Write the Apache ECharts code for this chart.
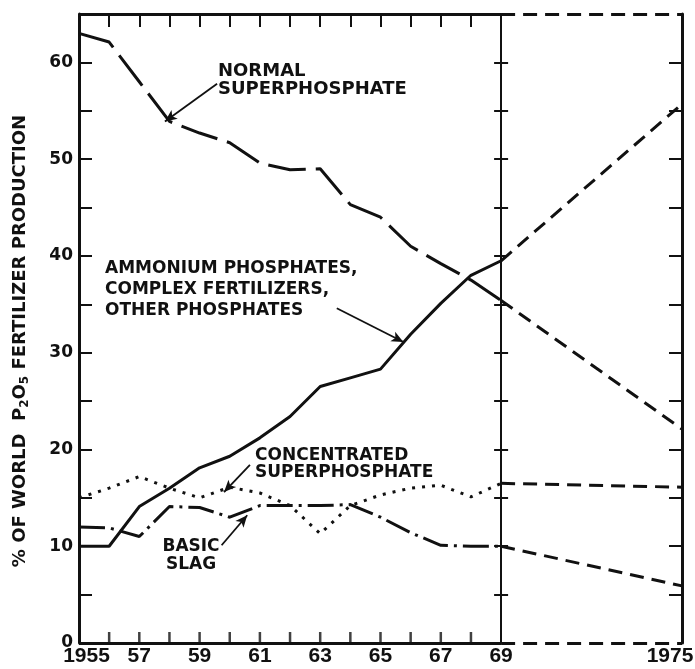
<!DOCTYPE html>
<html>
<head>
<meta charset="utf-8">
<script src="https://cdn.jsdelivr.net/npm/echarts@6/dist/echarts.min.js"></script>
<style>
  html, body { margin: 0; padding: 0; background: #fff; }
  #chart { width: 695px; height: 669px; }
</style>
</head>
<body>
<div id="chart"></div>
<script>
// years drawn as solid/dotted history, then projection to 1975
const years = [1955, 1956, 1957, 1958, 1959, 1960, 1961, 1962, 1963, 1964, 1965, 1966, 1967, 1968, 1969]
const normalSuper = [63.0, 62.1, 58.0, 53.9, 52.7, 51.7, 49.6, 48.9, 49.0, 45.3, 44.0, 41.0, 39.2, 37.5, 35.4]
const ammonium = [10.0, 10.0, 14.1, 16.0, 18.1, 19.3, 21.2, 23.4, 26.5, 27.4, 28.3, 31.9, 35.1, 38.0, 39.5]
const concentrated = [15.0, 16.0, 17.2, 16.0, 15.0, 16.1, 15.5, 14.2, 11.3, 14.2, 15.3, 16.0, 16.3, 15.1, 16.5]
const basicSlag = [12.0, 11.9, 11.0, 14.1, 14.0, 13.0, 14.2, 14.2, 14.2, 14.3, 13.0, 11.4, 10.1, 10.0, 10.0]

const projYears = [1969, 1975]
const normalProj = [35.4, 22.1]
const ammoniumProj = [39.5, 55.7]
const concentratedProj = [16.5, 16.1]
const basicSlagProj = [10.0, 5.9]

const xLabels = [1955, 1957, 1959, 1961, 1963, 1965, 1967, 1969, 1975]
const xTicks = [1956, 1957, 1958, 1959, 1960, 1961, 1962, 1963, 1964, 1965, 1966, 1967, 1968]
const yLabels = [0, 10, 20, 30, 40, 50, 60]
const yTicks = [5, 10, 15, 20, 25, 30, 35, 40, 45, 50, 55, 60]

const yMin = 0, yMax = 65
const xMin = 1955, xMax = 1975, xSplit = 1969

const gridLeft = 79, gridRight = 13, gridTop = 14, gridBottom = 26
const W = 695
const plotW = W - gridLeft - gridRight
const midOffset = -plotW * (xSplit - xMin) / (xMax - xMin)

const INK = '#111'
const BOLD = 'bold 17px "DejaVu Sans"'

function pairs (xs, ys) {
	return xs.map((x, i) => [x, ys[i]])
}

const chart = echarts.init(document.getElementById('chart'), null, { renderer: 'canvas' })

const projStyle = { color: INK, width: 3, type: [14, 8] }
const tickStyle = { color: INK, width: 2 }
const labelFont = { fontFamily: 'Liberation Sans', fontWeight: 'bold', fontSize: 21, color: INK }

chart.setOption({
	animation: false,
	backgroundColor: '#fff',
	textStyle: { fontFamily: 'DejaVu Sans', color: INK },
	grid: {
		left: gridLeft, right: gridRight, top: gridTop, bottom: gridBottom,
		containLabel: false, outerBoundsMode: 'none'
	},
	xAxis: [
		{
			// year labels
			type: 'value', min: xMin, max: xMax, position: 'bottom',
			axisLine: { show: false, onZero: false },
			splitLine: { show: false },
			axisTick: { show: false },
			axisLabel: Object.assign({
				customValues: xLabels,
				margin: 3,
				formatter (v) {
					if (v === 1955) return '{first|1955}'
					if (v === 1975) return '{last|1975}'
					return String(v % 100)
				},
				rich: {
					first: Object.assign({ padding: [0, 0, 0, 15] }, labelFont),
					last: Object.assign({ padding: [0, 24, 0, 0] }, labelFont)
				}
			}, labelFont)
		},
		{
			type: 'value', min: xMin, max: xMax, position: 'top',
			axisLine: { show: false, onZero: false },
			splitLine: { show: false },
			axisLabel: { show: false },
			axisTick: { show: true, inside: true, length: 13, customValues: xTicks, lineStyle: tickStyle }
		}
	],
	yAxis: [
		{
			type: 'value', min: yMin, max: yMax, position: 'left',
			axisLine: { show: true, onZero: false, lineStyle: { color: INK, width: 3 } },
			splitLine: { show: false },
			axisTick: { show: true, inside: true, length: 13, customValues: yTicks, lineStyle: tickStyle },
			axisLabel: {
				customValues: yLabels, margin: 6, color: INK,
				fontFamily: 'DejaVu Sans', fontWeight: 'bold', fontSize: 17
			}
		},
		{
			type: 'value', min: yMin, max: yMax, position: 'right',
			axisLine: { show: true, onZero: false, lineStyle: { color: INK, width: 3 } },
			splitLine: { show: false },
			axisLabel: { show: false },
			axisTick: { show: true, inside: true, length: 13, customValues: yTicks, lineStyle: tickStyle }
		},
		{
			// the 1969 divider, ticks on its right side
			type: 'value', min: yMin, max: yMax, position: 'left', offset: midOffset,
			axisLine: { show: true, onZero: false, lineStyle: { color: INK, width: 2 } },
			splitLine: { show: false },
			axisLabel: { show: false },
			axisTick: { show: true, inside: true, length: 7, customValues: yTicks, lineStyle: tickStyle }
		},
		{
			// same divider, ticks on its left side
			type: 'value', min: yMin, max: yMax, position: 'left', offset: midOffset,
			axisLine: { show: false, onZero: false },
			splitLine: { show: false },
			axisLabel: { show: false },
			axisTick: { show: true, inside: false, length: 7, customValues: yTicks, lineStyle: tickStyle }
		}
	],
	series: [
		{
			name: 'Normal superphosphate', type: 'line', showSymbol: false,
			data: pairs(years, normalSuper),
			lineStyle: { color: INK, width: 3, type: [38, 10] }
		},
		{
			name: 'Ammonium phosphates', type: 'line', showSymbol: false,
			data: pairs(years, ammonium),
			lineStyle: { color: INK, width: 3, type: 'solid' }
		},
		{
			name: 'Concentrated superphosphate', type: 'line', showSymbol: false,
			data: pairs(years, concentrated),
			lineStyle: { color: INK, width: 3, type: [3, 7] }
		},
		{
			name: 'Basic slag', type: 'line', showSymbol: false,
			data: pairs(years, basicSlag),
			lineStyle: { color: INK, width: 3, type: [26, 6, 3, 6] }
		},
		{ type: 'line', showSymbol: false, data: pairs(projYears, normalProj), lineStyle: projStyle },
		{ type: 'line', showSymbol: false, data: pairs(projYears, ammoniumProj), lineStyle: projStyle },
		{ type: 'line', showSymbol: false, data: pairs(projYears, concentratedProj), lineStyle: projStyle },
		{ type: 'line', showSymbol: false, data: pairs(projYears, basicSlagProj), lineStyle: projStyle },
		{
			// bottom year ticks: thin upright bars sitting on y = 0
			type: 'scatter', silent: true, clip: false, z: 5,
			symbol: 'rect', symbolSize: [2.5, 11], symbolOffset: [0, -5.5],
			itemStyle: { color: INK },
			data: xTicks.map(t => [t, yMin])
		},
		{
			// frame, solid part
			type: 'line', data: [],
			markLine: {
				symbol: 'none', label: { show: false },
				lineStyle: { color: INK, width: 3, type: 'solid' },
				data: [
					[{ coord: [xMin, yMax] }, { coord: [xSplit, yMax] }],
					[{ coord: [xMin, yMin] }, { coord: [xSplit, yMin] }]
				]
			}
		},
		{
			// frame, projection part
			type: 'line', data: [],
			markLine: {
				symbol: 'none', label: { show: false },
				lineStyle: { color: INK, width: 3, type: [14, 8] },
				data: [
					[{ coord: [xSplit, yMax] }, { coord: [xMax, yMax] }],
					[{ coord: [xSplit, yMin] }, { coord: [xMax, yMin] }]
				]
			}
		},
		{
			// label pointers
			type: 'line', data: [],
			markLine: {
				symbol: ['none', 'arrow'], symbolSize: [8, 12],
				label: { show: false },
				lineStyle: { color: INK, width: 1.8, type: 'solid' },
				data: [
					[{ coord: [1959.58, 57.8] }, { coord: [1957.85, 53.9] }],
					[{ coord: [1963.55, 34.6] }, { coord: [1965.76, 31.1] }],
					[{ coord: [1960.67, 18.4] }, { coord: [1959.81, 15.6] }],
					[{ coord: [1959.73, 10.1] }, { coord: [1960.58, 13.2] }]
				]
			}
		}
	],
	graphic: [
		{
			type: 'text', silent: true,
			style: {
				text: 'NORMAL\nSUPERPHOSPHATE', x: 218, y: 80,
				textAlign: 'left', textVerticalAlign: 'middle',
				font: 'bold 18px "DejaVu Sans"', lineHeight: 18, fill: INK
			}
		},
		{
			type: 'text', silent: true,
			style: {
				text: 'AMMONIUM PHOSPHATES,\nCOMPLEX FERTILIZERS,\nOTHER PHOSPHATES', x: 105, y: 290,
				textAlign: 'left', textVerticalAlign: 'middle',
				font: BOLD, lineHeight: 21, fill: INK
			}
		},
		{
			type: 'text', silent: true,
			style: {
				text: 'CONCENTRATED\nSUPERPHOSPHATE', x: 255, y: 464,
				textAlign: 'left', textVerticalAlign: 'middle',
				font: BOLD, lineHeight: 17, fill: INK
			}
		},
		{
			type: 'text', silent: true,
			style: {
				text: 'BASIC\nSLAG', x: 191, y: 556,
				textAlign: 'center', textVerticalAlign: 'middle',
				font: BOLD, lineHeight: 18, fill: INK
			}
		},
		{
			type: 'text', silent: true,
			x: 20, y: 341, rotation: Math.PI / 2,
			style: {
				text: '% OF WORLD  P{sub|2}O{sub|5} FERTILIZER PRODUCTION',
				x: 0, y: 0, textAlign: 'center', textVerticalAlign: 'middle',
				font: 'bold 18px "DejaVu Sans"', fill: INK,
				rich: {
					sub: { font: 'bold 12px "DejaVu Sans"', fill: INK, padding: [9, 0, 0, 0] }
				}
			}
		}
	]
})
</script>
</body>
</html>
